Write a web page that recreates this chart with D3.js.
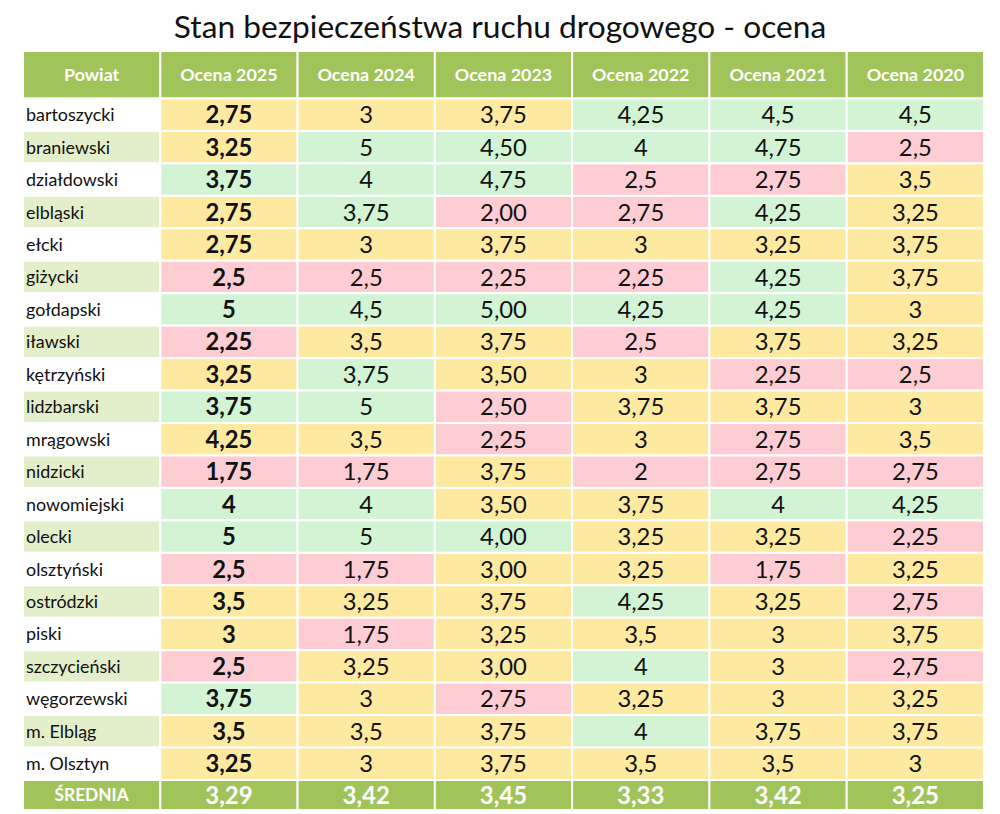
<!DOCTYPE html>
<html><head><meta charset="utf-8">
<script src="https://cdn.jsdelivr.net/npm/d3@7"></script>
<style>body{margin:0;background:#fff}</style>
</head><body>
<svg id="c" width="1000" height="814"></svg>
<script>
const title = "Stan bezpieczeństwa ruchu drogowego - ocena";
const headers = ["Powiat","Ocena 2025","Ocena 2024","Ocena 2023","Ocena 2022","Ocena 2021","Ocena 2020"];
const powiaty = ["bartoszycki","braniewski","działdowski","elbląski","ełcki","giżycki","gołdapski","iławski","kętrzyński","lidzbarski","mrągowski","nidzicki","nowomiejski","olecki","olsztyński","ostródzki","piski","szczycieński","węgorzewski","m. Elbląg","m. Olsztyn"];
const ocena2025 = [2.75,3.25,3.75,2.75,2.75,2.5,5,2.25,3.25,3.75,4.25,1.75,4,5,2.5,3.5,3,2.5,3.75,3.5,3.25];
const ocena2024 = [3,5,4,3.75,3,2.5,4.5,3.5,3.75,5,3.5,1.75,4,5,1.75,3.25,1.75,3.25,3,3.5,3];
const ocena2023 = [3.75,4.5,4.75,2,3.75,2.25,5,3.75,3.5,2.5,2.25,3.75,3.5,4,3,3.75,3.25,3,2.75,3.75,3.75];
const ocena2022 = [4.25,4,2.5,2.75,3,2.25,4.25,2.5,3,3.75,3,2,3.75,3.25,3.25,4.25,3.5,4,3.25,4,3.5];
const ocena2021 = [4.5,4.75,2.75,4.25,3.25,4.25,4.25,3.75,2.25,3.75,2.75,2.75,4,3.25,1.75,3.25,3,3,3,3.75,3.5];
const ocena2020 = [4.5,2.5,3.5,3.25,3.75,3.75,3,3.25,2.5,3,3.5,2.75,4.25,2.25,3.25,2.75,3.75,2.75,3.25,3.75,3];
// cell colour class as shown in the source (G = green, Y = yellow, P = pink)
const klasa2025 = "YYGYYPGPYGYPGGPYYPGYY";
const klasa2024 = "YGGGYPGYGGYPGGPYPYYYY";
const klasa2023 = "YGGPYPGYYPPYYGYYYYPYY";
const klasa2022 = "GGPPYPGPYYYPYYYGYGYGY";
const klasa2021 = "GGPGYGGYPYPPGYPYYYYYY";
const klasa2020 = "GPYYYYYYPYYPGPYPYPYYY";
const srednia = [3.29,3.42,3.45,3.33,3.42,3.25];
const sredniaLabel = "ŚREDNIA";

const series = [ocena2025,ocena2024,ocena2023,ocena2022,ocena2021,ocena2020];
const classes = [klasa2025,klasa2024,klasa2023,klasa2022,klasa2021,klasa2020];
const decimals = [null,null,2,null,null,null];

const fill = {G:"#d2f4d5", Y:"#fee9a1", P:"#fecdd3"};
const headGreen = "#a1c45a";
const labelAlt = "#e3efcb";
const font = "Lato, sans-serif";

const fmt = (v, d) => {
  let s = d ? v.toFixed(d) : String(v);
  return s.replace(".", ",");
};

const svg = d3.select("#c");
const x = d3.scaleBand().domain(d3.range(headers.length)).range([23, 984]).padding(0);
const y = d3.scaleBand().domain(d3.range(powiaty.length)).range([98.5, 780]).padding(0);
const headTop = 51, headBot = 98.5, footTop = 780, footBot = 810;

svg.append("text").attr("x", 500).attr("y", 38).attr("text-anchor","middle")
  .attr("font-family", font).attr("font-size", 31.7).attr("fill","#111").text(title);

// header
const hg = svg.append("g");
hg.selectAll("rect").data(headers).join("rect")
  .attr("x",(d,i)=>x(i)).attr("y",headTop).attr("width",x.bandwidth()).attr("height",headBot-headTop)
  .attr("fill",headGreen).attr("stroke","#fff").attr("stroke-width",2);
hg.selectAll("text").data(headers).join("text")
  .attr("x",(d,i)=>x(i)+x.bandwidth()/2).attr("y",(headTop+headBot)/2).attr("dy","0.36em")
  .attr("text-anchor","middle").attr("font-family",font).attr("font-weight","bold")
  .attr("font-size",17.9).attr("fill","#fff").text(d=>d);

// label column
const lg = svg.append("g");
lg.selectAll("rect").data(powiaty).join("rect")
  .attr("x",x(0)).attr("y",(d,i)=>y(i)).attr("width",x.bandwidth()).attr("height",y.bandwidth())
  .attr("fill",(d,i)=>i%2? labelAlt : "#fff").attr("stroke","#fff").attr("stroke-width",2);
lg.selectAll("text").data(powiaty).join("text")
  .attr("x",x(0)+3).attr("y",(d,i)=>y(i)+y.bandwidth()/2).attr("dy","0.36em")
  .attr("font-family",font).attr("font-size",17.9).attr("fill","#111").text(d=>d);

// value columns
series.forEach((vals, c) => {
  const g = svg.append("g");
  g.selectAll("rect").data(vals).join("rect")
    .attr("x",x(c+1)).attr("y",(d,i)=>y(i)).attr("width",x.bandwidth()).attr("height",y.bandwidth())
    .attr("fill",(d,i)=>fill[classes[c][i]]).attr("stroke","#fff").attr("stroke-width",2);
  g.selectAll("text").data(vals).join("text")
    .attr("x",x(c+1)+x.bandwidth()/2).attr("y",(d,i)=>y(i)+y.bandwidth()/2).attr("dy","0.36em")
    .attr("text-anchor","middle").attr("font-family",font)
    .attr("font-weight", c===0 ? "bold" : "normal")
    .attr("font-size",23.8).attr("fill","#111").text(d=>fmt(d, decimals[c]));
});

// footer
const footer = [sredniaLabel].concat(srednia.map(v=>fmt(v,2)));
const fg = svg.append("g");
fg.selectAll("rect").data(footer).join("rect")
  .attr("x",(d,i)=>x(i)).attr("y",footTop).attr("width",x.bandwidth()).attr("height",footBot-footTop)
  .attr("fill",headGreen).attr("stroke","#fff").attr("stroke-width",2);
fg.selectAll("text").data(footer).join("text")
  .attr("x",(d,i)=>x(i)+x.bandwidth()/2).attr("y",(footTop+footBot)/2).attr("dy","0.36em")
  .attr("text-anchor","middle").attr("font-family",font).attr("font-weight","bold")
  .attr("font-size",(d,i)=>i===0?17.3:24).attr("fill","#fff").text(d=>d);
</script>
</body></html>
